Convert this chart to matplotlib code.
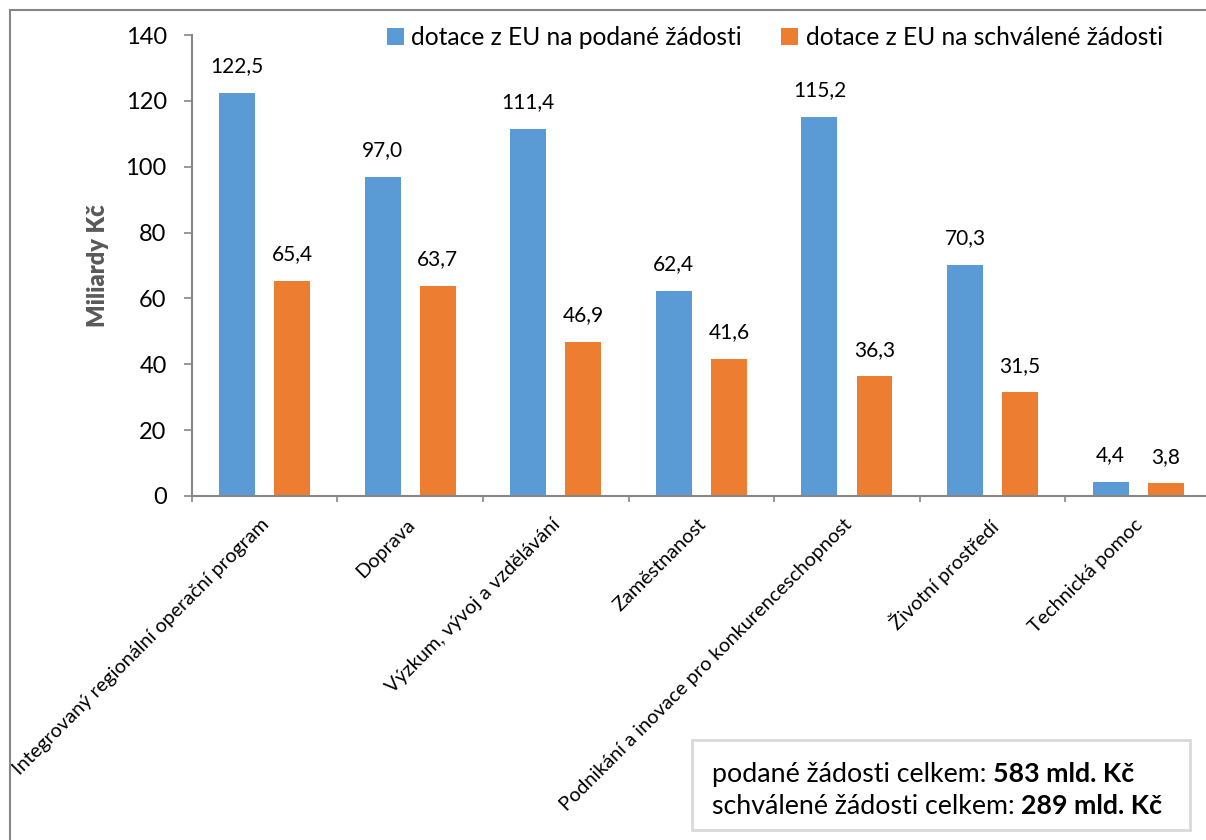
import matplotlib.pyplot as plt
from matplotlib.patches import Rectangle

# data
categories = ['Integrovaný regionální operační program', 'Doprava',
              'Výzkum, vývoj a vzdělávání', 'Zaměstnanost',
              'Podnikání a inovace pro konkurenceschopnost',
              'Životní prostředí', 'Technická pomoc']
podane = [122.5, 97.0, 111.4, 62.4, 115.2, 70.3, 4.4]
schvalene = [65.4, 63.7, 46.9, 41.6, 36.3, 31.5, 3.8]
series_names = ['dotace z EU na podané žádosti', 'dotace z EU na schválené žádosti']
total_lines = [('podané žádosti celkem: ', '583 mld. Kč'),
               ('schválené žádosti celkem: ', '289 mld. Kč')]

blue = '#5B9BD5'
orange = '#ED7D31'
gray = '#868686'

plt.rcParams['font.family'] = ['Lato', 'DejaVu Sans']

fig = plt.figure(figsize=(12.06, 8.4), dpi=100)
W, H = 1206, 840

# axes placed in pixel units of the reference
left, right, top, bottom = 191.7, 1211, 35, 496
ax = fig.add_axes([left / W, 1 - bottom / H, (right - left) / W, (bottom - top) / H])

n = len(categories)
xs = [i + 0.5 for i in range(n)]
bw = 0.247
off = 0.189
b1 = ax.bar([x - off for x in xs], podane, bw, color=blue, label=series_names[0])
b2 = ax.bar([x + off for x in xs], schvalene, bw, color=orange, label=series_names[1])

for bars, vals in ((b1, podane), (b2, schvalene)):
    for rect, v in zip(bars, vals):
        ax.annotate(f'{v:.1f}'.replace('.', ','),
                    (rect.get_x() + rect.get_width() / 2, v),
                    xytext=(0, 12), textcoords='offset points',
                    ha='center', va='bottom', fontsize=15)

ax.set_xlim(0, n)
ax.set_ylim(0, 140)
ax.set_yticks(range(0, 141, 20))
ax.set_xticks(range(n + 1))
ax.set_xticklabels([])
ax.tick_params(axis='y', length=6, width=1.2, color=gray, labelsize=17, pad=12)
ax.tick_params(axis='x', length=4, width=1.2, color=gray)
for s in ('top', 'right'):
    ax.spines[s].set_visible(False)
for s in ('left', 'bottom'):
    ax.spines[s].set_color(gray)
    ax.spines[s].set_linewidth(1.5)

for x, cat in zip(xs, categories):
    ax.text(x - 0.03, -6, cat, rotation=45, rotation_mode='anchor',
            ha='right', va='top', fontsize=14.3)

ax.set_ylabel('Miliardy Kč', fontsize=17, fontweight='heavy', color='#595959', labelpad=12)

ax.legend(loc='upper left', bbox_to_anchor=(185 / (right - left), 1.04),
          ncol=2, frameon=False, fontsize=17.7, handlelength=0.7, handleheight=0.7,
          handletextpad=0.3, columnspacing=1.6, borderaxespad=0)

# outer frame
fig.patches.append(Rectangle((10 / W, -0.1), 1.2, 1.1 - 10 / H, transform=fig.transFigure,
                             fill=False, edgecolor=gray, linewidth=1.5))

# totals box
fig.patches.append(Rectangle((692 / W, 1 - 830 / H), (1190 - 692) / W, 90 / H,
                             transform=fig.transFigure, facecolor='white',
                             edgecolor='#D9D9D9', linewidth=2))
renderer = fig.canvas.get_renderer()
for k, (normal, bold) in enumerate(total_lines):
    y = 1 - (782 + 32 * k) / H
    t = fig.text(712 / W, y, normal, fontsize=19.3, va='baseline', zorder=5)
    x1 = t.get_window_extent(renderer).x1
    fig.text(x1 / W, y, bold, fontsize=19.3, fontweight='bold', va='baseline', zorder=5)

fig.savefig('out.png', dpi=100)
